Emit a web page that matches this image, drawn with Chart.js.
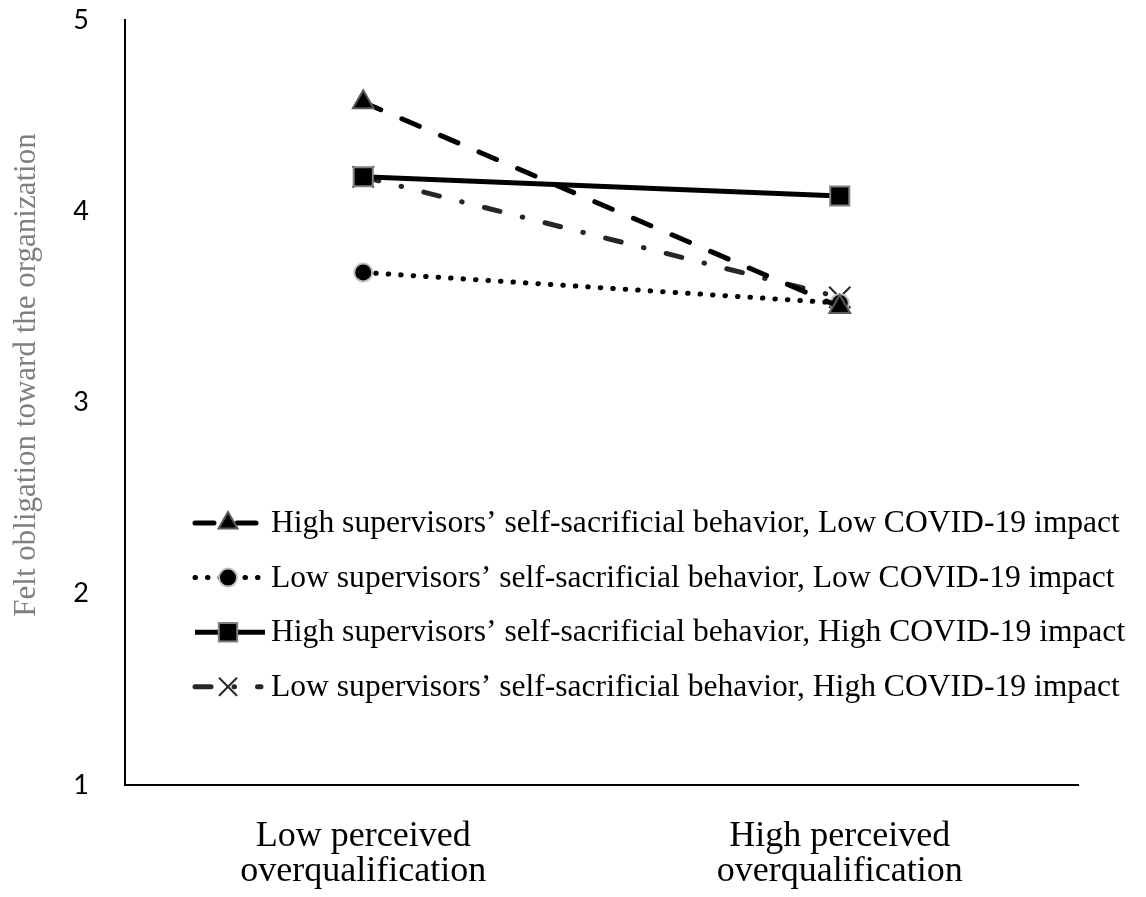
<!DOCTYPE html>
<html>
<head>
<meta charset="utf-8">
<script src="https://cdn.jsdelivr.net/npm/chart.js@4.4.1/dist/chart.umd.min.js"></script>
<style>
  html, body { margin: 0; padding: 0; background: #fff; }
  #wrap { width: 1146px; height: 897px; }
</style>
</head>
<body>
<div id="wrap"><canvas id="chart"></canvas></div>
<script>
// categories on the x axis
const categories = [
    ["Low perceived", "overqualification"],
    ["High perceived", "overqualification"],
];

// series names (legend)
const seriesNames = [
    "High supervisors\u2019 self-sacrificial behavior, Low COVID-19 impact",
    "Low supervisors\u2019 self-sacrificial behavior, Low COVID-19 impact",
    "High supervisors\u2019 self-sacrificial behavior, High COVID-19 impact",
    "Low supervisors\u2019 self-sacrificial behavior, High COVID-19 impact",
];

// series values
const highSacLowImpact = [4.57, 3.50];
const lowSacLowImpact = [3.68, 3.52];
const highSacHighImpact = [4.18, 4.08];
const lowSacHighImpact = [4.18, 3.55];

// y axis ticks
const yTicks = [1, 2, 3, 4, 5];

const yTitle = "Felt obligation toward the organization";

// y axis title, drawn rotated
const yTitlePlugin = {
    id: "yTitle",
    afterDraw(chart) {
        const ctx = chart.ctx;
        ctx.save();
        ctx.translate(35, 375);
        ctx.rotate(-Math.PI / 2);
        ctx.font = '31px "Liberation Serif"';
        ctx.fillStyle = "#7f7f7f";
        ctx.textAlign = "center";
        ctx.textBaseline = "alphabetic";
        ctx.fillText(yTitle, 0, 0);
        ctx.restore();
    },
};

// legend inside the plot: line sample + marker + text
const legendPlugin = {
    id: "innerLegend",
    afterDraw(chart) {
        const ctx = chart.ctx;
        const markerSize = [11, 9, 13, 12];
        chart.data.datasets.forEach((ds, i) => {
            const y = 523 + i * 54.6;
            ctx.save();
            ctx.strokeStyle = ds.borderColor;
            ctx.lineWidth = ds.borderWidth;
            ctx.lineCap = ds.borderCapStyle || "butt";
            ctx.setLineDash(ds.borderDash || []);
            ctx.beginPath();
            ctx.moveTo(195, y);
            ctx.lineTo(i === 2 ? 265 : 261, y);
            ctx.stroke();
            ctx.setLineDash([]);
            ctx.fillStyle = ds.pointBackgroundColor;
            ctx.strokeStyle = ds.pointBorderColor;
            ctx.lineWidth = ds.pointBorderWidth;
            Chart.helpers.drawPoint(ctx, {
                pointStyle: ds.pointStyle,
                radius: markerSize[i],
                rotation: 0,
                borderWidth: ds.pointBorderWidth,
            }, 228, y);
            ctx.fillStyle = "#000";
            ctx.font = '31.6px "Liberation Serif"';
            ctx.textAlign = "left";
            ctx.textBaseline = "middle";
            ctx.fillText(ds.label, 271, y + 1);
            ctx.restore();
        });
    },
};

new Chart(document.getElementById("chart"), {
    type: "line",
    data: {
        labels: categories,
        datasets: [
            {
                label: seriesNames[0],
                data: highSacLowImpact,
                borderColor: "#000000",
                borderWidth: 5,
                borderDash: [19, 23],
                borderCapStyle: "round",
                pointStyle: "triangle",
                pointRadius: 12,
                pointBackgroundColor: "#000000",
                pointBorderColor: "#595959",
                pointBorderWidth: 2,
            },
            {
                label: seriesNames[1],
                data: lowSacLowImpact,
                borderColor: "#000000",
                borderWidth: 5,
                borderDash: [0.5, 12],
                borderCapStyle: "round",
                pointStyle: "circle",
                pointRadius: 9,
                pointBackgroundColor: "#000000",
                pointBorderColor: "#bfbfbf",
                pointBorderWidth: 2,
            },
            {
                label: seriesNames[2],
                data: highSacHighImpact,
                borderColor: "#000000",
                borderWidth: 5,
                borderDash: [],
                borderCapStyle: "butt",
                pointStyle: "rect",
                pointRadius: 13.5,
                pointBackgroundColor: "#000000",
                pointBorderColor: "#7f7f7f",
                pointBorderWidth: 2,
            },
            {
                label: seriesNames[3],
                data: lowSacHighImpact,
                borderColor: "#262626",
                borderWidth: 5,
                borderDash: [16, 23, 0.5, 23],
                borderCapStyle: "round",
                pointStyle: "crossRot",
                pointRadius: 15,
                pointBackgroundColor: "#262626",
                pointBorderColor: "#262626",
                pointBorderWidth: 2,
            },
        ],
    },
    options: {
        responsive: true,
        maintainAspectRatio: false,
        animation: false,
        layout: { padding: { top: 20, right: 68, left: 0, bottom: 0 } },
        plugins: {
            legend: { display: false },
            tooltip: { enabled: false },
        },
        scales: {
            x: {
                offset: true,
                grid: { display: false },
                border: { display: true, color: "#000000", width: 2 },
                ticks: {
                    color: "#000000",
                    padding: 26,
                    maxRotation: 0,
                    font: { family: '"Liberation Serif"', size: 36, lineHeight: 0.98 },
                },
                afterFit: (scale) => {
                    scale.height = 112;
                    scale.paddingLeft = 0;
                    scale.paddingRight = 0;
                },
            },
            y: {
                min: 1,
                max: 5,
                grid: { display: false },
                border: { display: true, color: "#000000", width: 2 },
                ticks: {
                    color: "#000000",
                    padding: 28,
                    font: { family: "Lato", size: 27 },
                },
                afterBuildTicks: (scale) => {
                    scale.ticks = yTicks.map((v) => ({ value: v }));
                },
                afterFit: (scale) => {
                    scale.width = 125;
                    scale.paddingTop = 0;
                    scale.paddingBottom = 0;
                },
            },
        },
    },
    plugins: [yTitlePlugin, legendPlugin],
});
</script>
</body>
</html>
